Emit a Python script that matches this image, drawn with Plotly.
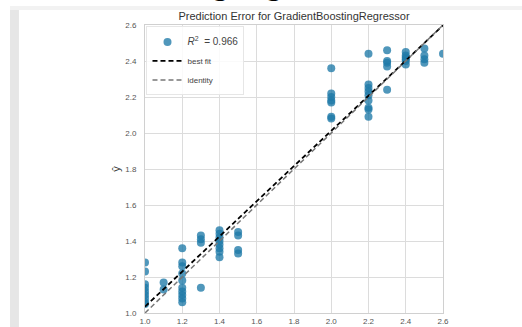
import plotly.graph_objects as go

x_vals = [1.0]*9 + [1.1]*2 + [1.2]*10 + [1.3]*4 + [1.4]*8 + [1.5]*4 + [2.0]*7 + [2.2]*9 + [2.3]*5 + [2.4]*6 + [2.5]*4 + [2.6]
y_vals = [1.28, 1.23, 1.16, 1.14, 1.12, 1.10, 1.08, 1.06, 1.05,
          1.17, 1.13,
          1.36, 1.28, 1.26, 1.22, 1.18, 1.14, 1.12, 1.10, 1.08, 1.06,
          1.43, 1.41, 1.39, 1.14,
          1.46, 1.44, 1.42, 1.40, 1.38, 1.36, 1.34, 1.31,
          1.45, 1.43, 1.35, 1.33,
          2.36, 2.22, 2.20, 2.18, 2.17, 2.09, 2.08,
          2.44, 2.27, 2.25, 2.23, 2.21, 2.18, 2.14, 2.13, 2.09,
          2.46, 2.40, 2.39, 2.37, 2.24,
          2.45, 2.43, 2.42, 2.41, 2.40, 2.38,
          2.47, 2.43, 2.41, 2.39,
          2.44]
bestfit_x = [1.0, 2.6]
bestfit_y = [1.035, 2.598]
identity_x = [1.0, 2.6]
identity_y = [1.0, 2.6]
tick_vals = [1.0, 1.2, 1.4, 1.6, 1.8, 2.0, 2.2, 2.4, 2.6]
tick_text = ["1.0", "1.2", "1.4", "1.6", "1.8", "2.0", "2.2", "2.4", "2.6"]

fig = go.Figure()
fig.add_trace(go.Scatter(
    x=x_vals, y=y_vals, mode="markers",
    name='<span style="font-size:10px"><i>R</i><sup>2</sup>  = 0.966</span>',
    marker=dict(color="#1f7aa8", size=8, opacity=0.78, line=dict(width=0)),
))
fig.add_trace(go.Scatter(
    x=bestfit_x, y=bestfit_y, mode="lines", name="best fit",
    line=dict(color="black", width=1.8, dash="5px,3px"),
))
fig.add_trace(go.Scatter(
    x=identity_x, y=identity_y, mode="lines", name="identity",
    line=dict(color="#777777", width=1.5, dash="5px,3px"),
))

axis_common = dict(
    range=[1.0, 2.6], tickvals=tick_vals, ticktext=tick_text,
    showgrid=True, gridcolor="#dcdcdc", gridwidth=1,
    showline=True, linecolor="#d0d0d0", linewidth=1, mirror=True,
    zeroline=False, ticks="", automargin=False,
    tickfont=dict(family="Liberation Sans, Arial", size=8, color="#555555"),
)

fig.update_layout(
    width=522, height=327,
    margin=dict(l=145, r=79, t=25, b=14),
    paper_bgcolor="white", plot_bgcolor="white",
    showlegend=True,
    legend=dict(x=0.005, y=0.995, xanchor="left", yanchor="top",
                bgcolor="rgba(255,255,255,0.85)", bordercolor="#e6e6e6", borderwidth=1,
                font=dict(family="Liberation Sans, Arial", size=8, color="#444444"),
                itemwidth=30, tracegroupgap=0),
    xaxis=dict(**axis_common),
    yaxis=dict(**axis_common, ticklabelstandoff=6),
    title=dict(text="Prediction Error for GradientBoostingRegressor",
               x=(145 + 443) / 2 / 522, xanchor="center", y=1 - 16 / 327, yanchor="middle",
               font=dict(family="Liberation Sans, Arial", size=11, color="#333333")),
    annotations=[
        dict(text="ŷ", xref="paper", yref="paper", x=-0.125, y=0.5, showarrow=False,
             textangle=-90, font=dict(family="Liberation Sans, Arial", size=11, color="#333333")),
        dict(text="<b>Gradient Boosting Regressor</b>", xref="paper", yref="paper",
             x=-0.47, y=1.136, xanchor="left", yanchor="middle", showarrow=False,
             font=dict(family="Liberation Serif, Times New Roman", size=28, color="black")),
    ],
    shapes=[
        dict(type="rect", xref="paper", yref="paper", x0=-0.453, x1=-0.423, y0=-0.1, y1=1.066,
             fillcolor="#e6e6e6", line=dict(width=0), layer="below"),
        dict(type="rect", xref="paper", yref="paper", x0=-0.453, x1=1.3, y0=1.052, y1=1.066,
             fillcolor="#f2f2f2", line=dict(width=0), layer="below"),
    ],
)

fig.write_html("out.html", config={"displayModeBar": False},
               post_script="document.body.style.margin='0px';")
